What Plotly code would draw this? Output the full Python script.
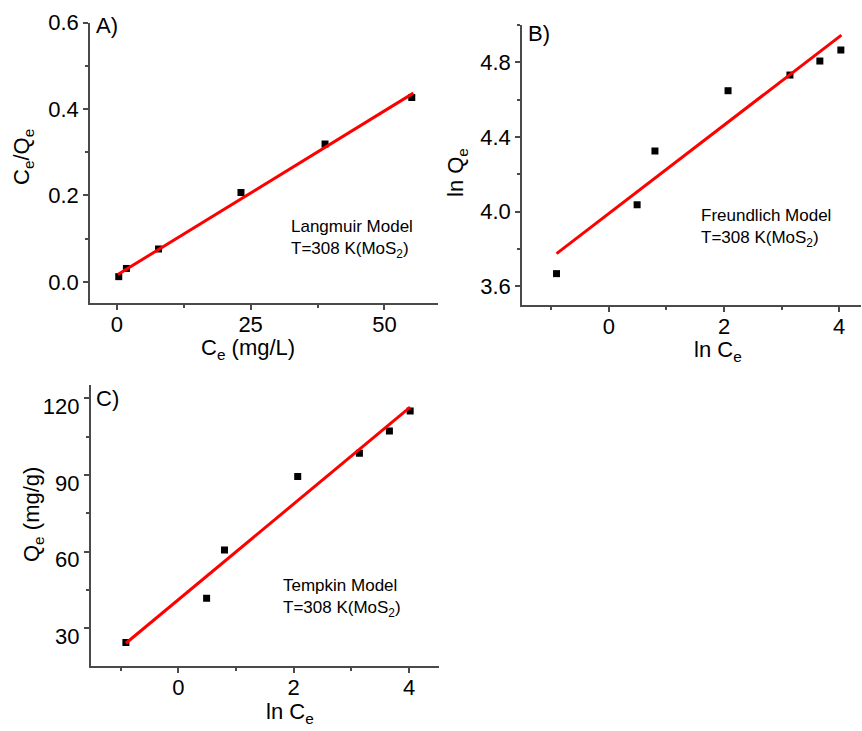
import plotly.graph_objects as go

W, H = 862, 731

# ---- data ----
a_ce = [0.37, 1.8, 7.8, 23.2, 38.9, 55.1]
a_ceqe = [0.012, 0.031, 0.076, 0.207, 0.319, 0.427]
a_fit_x = [0.2, 55.4]
a_fit_y = [0.017, 0.437]

b_lnce = [-0.91, 0.49, 0.80, 2.07, 3.145, 3.665, 4.03]
b_lnqe = [3.668, 4.037, 4.325, 4.648, 4.732, 4.807, 4.866]
b_fit_x = [-0.91, 4.04]
b_fit_y = [3.775, 4.946]

c_lnce = [-0.91, 0.49, 0.80, 2.07, 3.14, 3.66, 4.02]
c_qe = [24.4, 41.7, 60.6, 89.4, 98.5, 107.2, 115.0]
c_fit_x = [-0.91, 4.02]
c_fit_y = [24.1, 116.5]

FONT = "Liberation Sans, Arial, sans-serif"
AX = "#4a4a4a"

fig = go.Figure()

def add_panel(xs, ys, fx, fy, xa, ya):
    fig.add_trace(go.Scatter(x=xs, y=ys, mode="markers", xaxis=xa, yaxis=ya,
                             marker=dict(symbol="square", size=7, color="black"),
                             showlegend=False))
    fig.add_trace(go.Scatter(x=fx, y=fy, mode="lines", xaxis=xa, yaxis=ya,
                             line=dict(color="#ff0000", width=3),
                             showlegend=False))

add_panel(a_ce, a_ceqe, a_fit_x, a_fit_y, "x", "y")
add_panel(b_lnce, b_lnqe, b_fit_x, b_fit_y, "x2", "y2")
add_panel(c_lnce, c_qe, c_fit_x, c_fit_y, "x3", "y3")

def px_x(p):
    return p / W

def px_y(p):
    return 1 - p / H

def axis(domain, rng, tick0, dtick, mdtick, anchor, fmt=None, **kw):
    d = dict(domain=domain, range=rng, tickmode="linear", tick0=tick0, dtick=dtick,
             showline=True, linecolor=AX, linewidth=1.5, ticks="outside",
             ticklen=5, tickwidth=1.5, tickcolor=AX, showgrid=False, zeroline=False,
             mirror=False, anchor=anchor, automargin=False,
             tickfont=dict(family=FONT, size=22, color="black"),
             minor=dict(ticks="outside", ticklen=3, tickwidth=1.5, tickcolor=AX,
                        dtick=mdtick, tick0=tick0, showgrid=False))
    if fmt:
        d["tickformat"] = fmt
    d.update(kw)
    return d

fig.update_layout(
    width=W, height=H, margin=dict(l=0, r=0, t=0, b=0, autoexpand=False),
    paper_bgcolor="white", plot_bgcolor="white",
    font=dict(family=FONT, color="black"),
    xaxis=axis([px_x(90), px_x(438)], [-5, 60], 0, 25, 12.5, "y", ticklabelstandoff=-4),
    yaxis=axis([px_y(303), px_y(22.7)], [-0.049, 0.6], 0, 0.2, 0.1, "x", ".1f"),
    xaxis2=axis([px_x(522), px_x(861)], [-1.51, 4.38], 0, 2, 1, "y2", ticklabelstandoff=-4),
    yaxis2=axis([px_y(305), px_y(25)], [3.5, 5.0], 3.6, 0.4, 0.2, "x2", ".1f"),
    xaxis3=axis([px_x(90.7), px_x(439)], [-1.52, 4.52], 0, 2, 1, "y3", ticklabelstandoff=-4),
    yaxis3=axis([px_y(666), px_y(385)], [15.2, 125.2], 30, 30, 15, "x3", ticklabelshift=8),
)

def ann(text, x, y, size, xanchor="center", yanchor="middle", angle=0, align="left"):
    fig.add_annotation(text=text, x=px_x(x), y=px_y(y), xref="paper", yref="paper",
                       xanchor=xanchor, yanchor=yanchor, showarrow=False,
                       textangle=angle, align=align,
                       font=dict(family=FONT, size=size, color="black"))

# axis titles
ann("C<sub>e</sub>/Q<sub>e</sub>", 23, 157, 22, angle=-90)
ann("C<sub>e</sub> (mg/L)", 248, 349, 22)
ann("ln Q<sub>e</sub>", 457, 173, 22, angle=-90)
ann("ln C<sub>e</sub>", 718, 351, 22)
ann("Q<sub>e</sub> (mg/g)", 33, 515, 22, angle=-90)
ann("ln C<sub>e</sub>", 290, 713, 22)

# panel labels
ann("A)", 94, 25, 22, xanchor="left")
ann("B)", 526, 33, 22, xanchor="left")
ann("C)", 94, 398, 22, xanchor="left")

# model notes
ann("Langmuir Model<br>T=308 K(MoS<sub>2</sub>)", 289, 239, 17, xanchor="left")
ann("Freundlich Model<br>T=308 K(MoS<sub>2</sub>)", 699, 228, 17, xanchor="left")
ann("Tempkin Model<br>T=308 K(MoS<sub>2</sub>)", 281, 598, 17, xanchor="left")

fig.write_html("out.html")
